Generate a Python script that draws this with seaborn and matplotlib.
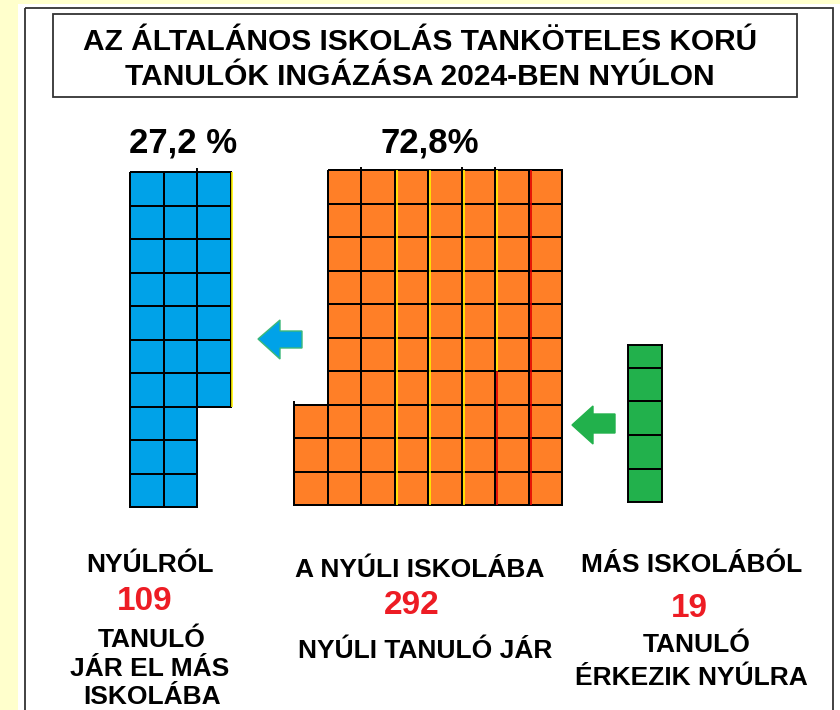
import numpy as np
import pandas as pd
import matplotlib
matplotlib.use("Agg")
import matplotlib.pyplot as plt
from matplotlib.patches import Rectangle, Polygon
from matplotlib.colors import ListedColormap
import seaborn as sns

# ---------------- data ----------------
title_lines = ["AZ ÁLTALÁNOS ISKOLÁS TANKÖTELES KORÚ",
               "TANULÓK INGÁZÁSA 2024-BEN NYÚLON"]
group_names = ["Nyúlról más iskolába", "Nyúli iskolába", "Más iskolából Nyúlra"]
group_counts = [109, 292, 19]
pct_labels = ["27,2 %", "72,8%"]
# waffle cells per column (1 cell = 1 %)
blue_cols = [10, 10, 7]                        # hanging from the top
orange_cols = [3, 10, 10, 10, 10, 10, 10, 10]  # standing on the bottom
green_cols = [4.7]                             # 19 pupils = 4.7 %
caption_top = ["NYÚLRÓL", "A NYÚLI ISKOLÁBA", "MÁS ISKOLÁBÓL"]
caption_bottom = [["TANULÓ", "JÁR EL MÁS", "ISKOLÁBA"],
                  ["NYÚLI TANULÓ JÁR"],
                  ["TANULÓ", "ÉRKEZIK NYÚLRA"]]

# ---------------- style ----------------
sns.set_theme(style="white")
plt.rcParams["font.family"] = ["Liberation Sans", "DejaVu Sans"]
plt.rcParams["font.weight"] = "bold"

BLUE, ORANGE, GREEN = "#00A2E8", "#FF7F27", "#22B14C"
RED = "#ED1C24"
W, H = 840, 710
CELL = 33.5
LW = 1.4

fig = plt.figure(figsize=(W / 100, H / 100), dpi=100, facecolor="#FFFFCC")
bg = fig.add_axes([0, 0, 1, 1])
bg.set_xlim(0, W)
bg.set_ylim(H, 0)
bg.axis("off")

# white panel + frame
bg.add_patch(Rectangle((18, 4), W - 18, H, facecolor="white", edgecolor="none"))
bg.add_patch(Rectangle((25, 8), 808, H, facecolor="none", edgecolor="#333333", lw=1.3))
# title box
bg.add_patch(Rectangle((53, 14), 744, 83, facecolor="white", edgecolor="#333333", lw=1.3))
bg.text(420, 50, title_lines[0], ha="center", va="baseline", fontsize=21.5,
        fontweight="bold", color="black")
bg.text(420, 85, title_lines[1], ha="center", va="baseline", fontsize=21.5,
        fontweight="bold", color="black")


def waffle(cols, from_top, color, left_px, bottom_px, nrows=10, clip=False, visible_rows=None):
    ncols = len(cols)
    mat = np.full((nrows, ncols), np.nan)
    for c, n in enumerate(cols):
        n_int = int(np.ceil(n))
        for r in range(nrows):
            if from_top:
                filled = r < n_int
            else:
                filled = r >= nrows - n_int
            if filled:
                mat[r, c] = 1.0
    df = pd.DataFrame(mat)
    vis = visible_rows if visible_rows is not None else nrows
    ax = fig.add_axes([left_px / W, (H - bottom_px) / H,
                       ncols * CELL / W, vis * CELL / H])
    sns.heatmap(df, ax=ax, cmap=ListedColormap([color]), vmin=0, vmax=2,
                cbar=False, xticklabels=False, yticklabels=False,
                linewidths=LW, linecolor="black", mask=df.isna())
    mesh = ax.collections[0]
    edge = np.array([[0, 0, 0, 1.0] if not np.isnan(v) else [0, 0, 0, 0.0]
                     for v in mat.ravel()])
    mesh.set_edgecolor(edge)
    mesh.set_clip_on(clip)
    ax.set_ylim(nrows, nrows - vis)
    ax.set_xlabel("")
    ax.set_ylabel("")
    ax.patch.set_alpha(0)
    for s in ax.spines.values():
        s.set_visible(False)
    return ax


# blue: hanging columns
axb = waffle(blue_cols, True, BLUE, 130, 507)
axb.vlines(3.05, 0, 7, color="#FFF200", lw=1.2, clip_on=False)
axb.vlines(2, -0.12, 0, color="black", lw=LW, clip_on=False)

# orange
axo = waffle(orange_cols, False, ORANGE, 294, 505)
for xv in (3, 4, 5):
    axo.vlines(xv + 0.06, 0, 10, color="#FFF200", lw=1.2, clip_on=False)
axo.vlines(6 + 0.06, 0, 6, color="#FFF200", lw=1.2, clip_on=False)
axo.vlines(6 + 0.06, 6, 10, color="#E00000", lw=1.2, clip_on=False)
axo.vlines(7 + 0.06, 0, 10, color="#E00000", lw=1.2, clip_on=False)
for xv in (2, 5, 6):
    axo.vlines(xv, -0.1, 0, color="black", lw=LW, clip_on=False)
axo.vlines(0, 6.9, 7, color="black", lw=LW, clip_on=False)

# green: partial top cell
axg = waffle(green_cols, False, GREEN, 628, 502, nrows=5, clip=True,
             visible_rows=green_cols[0])
for s in axg.spines.values():
    s.set_visible(True)
    s.set_color("black")
    s.set_linewidth(LW)

# arrows
bg.add_patch(Polygon([(258, 339), (280, 320), (280, 331), (302, 331), (302, 348),
                      (280, 348), (280, 359)], closed=True, facecolor=BLUE,
                     edgecolor="#3CB878", lw=1.0))
bg.add_patch(Polygon([(572, 425), (593, 406), (593, 414), (615, 414), (615, 433),
                      (593, 433), (593, 444)], closed=True, facecolor=GREEN,
                     edgecolor=GREEN, lw=1.0))

# percentages
bg.text(183, 152, pct_labels[0], ha="center", va="baseline", fontsize=25,
        fontweight="bold", color="black")
bg.text(430, 152, pct_labels[1], ha="center", va="baseline", fontsize=25,
        fontweight="bold", color="black")

# captions
top_pos = [(150, 572), (420, 577), (692, 572)]
num_pos = [(145, 610), (412, 614), (689, 617)]
bottom_pos = [[(152, 647), (150, 676), (152, 704)],
              [(425, 658)],
              [(697, 652), (691, 685)]]
for i in range(3):
    bg.text(*top_pos[i], caption_top[i], ha="center", va="baseline",
            fontsize=19, fontweight="bold", color="black")
    bg.text(*num_pos[i], str(group_counts[i]), ha="center", va="baseline",
            fontsize=24, fontweight="bold", color=RED)
    for txt, pos in zip(caption_bottom[i], bottom_pos[i]):
        bg.text(*pos, txt, ha="center", va="baseline", fontsize=19,
                fontweight="bold", color="black")

fig.savefig("out.png", dpi=100, facecolor=fig.get_facecolor())
